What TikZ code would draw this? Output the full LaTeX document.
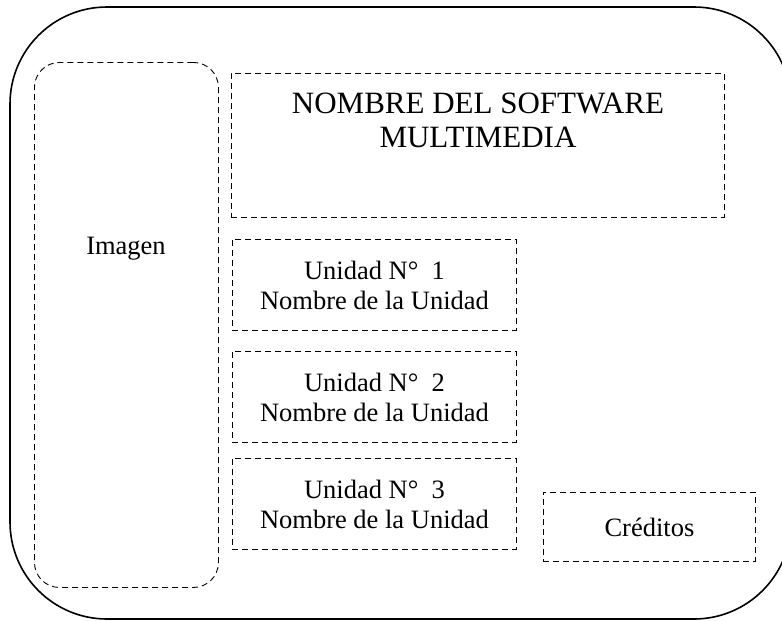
\documentclass[tikz,border=0pt]{standalone}
\usepackage{fontspec}
\setmainfont{Liberation Serif}
\usetikzlibrary{positioning}

\begin{document}
\begin{tikzpicture}[
  x=1pt, y=-1pt,
  frame/.style={draw, line width=1.6pt, rounded corners=97pt},
  dashbox/.style={draw, line width=0.9pt, dash pattern=on 6pt off 4pt, align=center, inner sep=0pt},
  unitbox/.style={dashbox, minimum width=284pt, minimum height=91pt, anchor=north west,
    font=\fontsize{26.5}{30}\selectfont},
  bodytext/.style={font=\fontsize{26.5}{30}\selectfont, inner sep=0pt}
]
\clip (0,0) rectangle (782,621);

% marco exterior
\draw[frame] (10,7) rectangle (791,619);

\node[dashbox, rounded corners=25pt, minimum width=184pt, minimum height=525pt, anchor=north west] (imagen) at (34,62) {};
\node[bodytext] (imgtxt) at (126,249) {Imagen};

\node[dashbox, minimum width=493pt, minimum height=144pt, anchor=north west] (titulo) at (231,73) {};
\node[dashbox, draw=none, anchor=north, font=\fontsize{31}{34}\selectfont] (tittxt) at ([yshift=-19.5pt]titulo.north)
  {NOMBRE DEL SOFTWARE\\MULTIMEDIA};

\node[unitbox] (unidad1) at (232,239) {Unidad N°\ \ 1\\Nombre de la Unidad};
\node[unitbox] (unidad2) at (232,351) {Unidad N°\ \ 2\\Nombre de la Unidad};
\node[unitbox] (unidad3) at (232,458) {Unidad N°\ \ 3\\Nombre de la Unidad};

\node[dashbox, minimum width=212pt, minimum height=69pt, anchor=north west,
  font=\fontsize{26.5}{30}\selectfont] (creditos) at (543,492) {Créditos};

\end{tikzpicture}
\end{document}
